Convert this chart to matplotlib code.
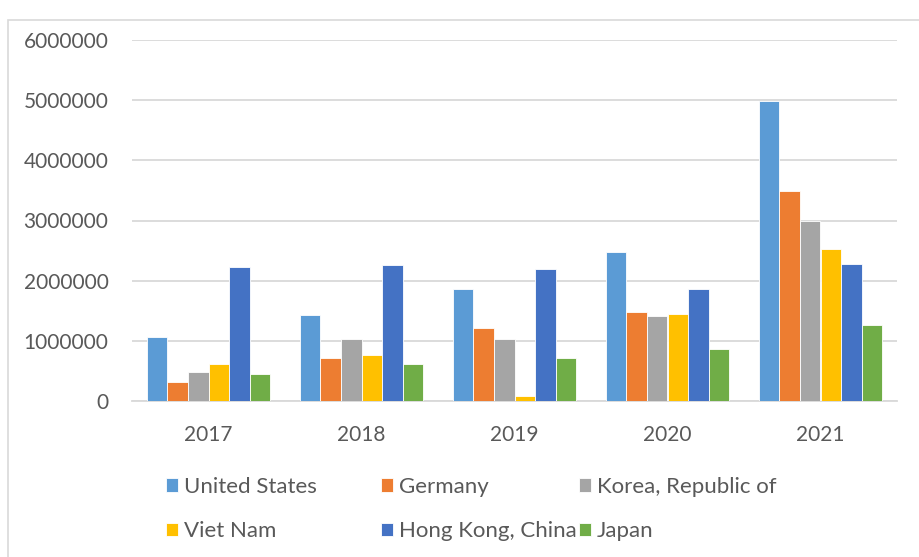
import numpy as np
import matplotlib
matplotlib.use("Agg")
import matplotlib.pyplot as plt
from matplotlib.patches import Rectangle

# data
years = ["2017", "2018", "2019", "2020", "2021"]
united_states = [1060000, 1430000, 1860000, 2480000, 4980000]
germany = [310000, 710000, 1210000, 1480000, 3490000]
korea = [490000, 1030000, 1030000, 1420000, 3000000]
viet_nam = [620000, 760000, 90000, 1445000, 2530000]
hong_kong = [2220000, 2260000, 2200000, 1860000, 2270000]
japan = [445000, 610000, 710000, 870000, 1270000]

names = ["United States", "Germany", "Korea, Republic of",
         "Viet Nam", "Hong Kong, China", "Japan"]
series = [united_states, germany, korea, viet_nam, hong_kong, japan]
colors = ["#5B9BD5", "#ED7D31", "#A5A5A5", "#FFC000", "#4472C4", "#70AD47"]

plt.rcParams['font.family'] = ['Lato', 'DejaVu Sans']
txt = "#595959"
grid = "#D9D9D9"

fig = plt.figure(figsize=(9.2, 5.57), dpi=100)
ax = fig.add_axes([132/920, 1 - 401/557, 765/920, 361/557])

# chart border (runs off right/bottom edge like the screenshot)
fig.patches.append(Rectangle((8/920, -0.1), 1.0, 1 - 20/557 + 0.1,
                             transform=fig.transFigure, fill=False,
                             edgecolor=grid, linewidth=1.2))

x = np.arange(len(years))
w = 0.134
bars = []
for i, (vals, c) in enumerate(zip(series, colors)):
    b = ax.bar(x + (i - 2.5) * w, vals, width=w, color=c,
               edgecolor="white", linewidth=0.6, label=names[i], zorder=3)
    bars.append(b)

ax.set_xlim(-0.5, len(years) - 0.5)
ax.set_ylim(0, 6000000)
ax.set_yticks(np.arange(0, 6000001, 1000000))
ax.set_yticklabels([str(v) for v in range(0, 6000001, 1000000)])
ax.set_xticks(x)
ax.set_xticklabels(years)
ax.tick_params(axis="both", length=0, labelsize=15, labelcolor=txt)
ax.tick_params(axis="y", pad=17)
ax.tick_params(axis="x", pad=17)
ax.yaxis.grid(True, color=grid, linewidth=1.3, zorder=0)
for s in ["left", "right", "top"]:
    ax.spines[s].set_visible(False)
ax.spines["bottom"].set_color(grid)
ax.spines["bottom"].set_linewidth(1.3)

# legend: three columns of two rows, placed like the Excel legend
col_x = [166, 381, 579]
for c, xpos in enumerate(col_x):
    idx = [c, c + 3]
    fig.legend([bars[i] for i in idx], [names[i] for i in idx],
               loc="upper left", bbox_to_anchor=(xpos/920, 1 - 477/557),
               frameon=False, fontsize=16, labelcolor=txt,
               handlelength=0.55, handleheight=0.55, handletextpad=0.25,
               labelspacing=1.1, borderpad=0, borderaxespad=0)

fig.savefig("out.png", dpi=100)
